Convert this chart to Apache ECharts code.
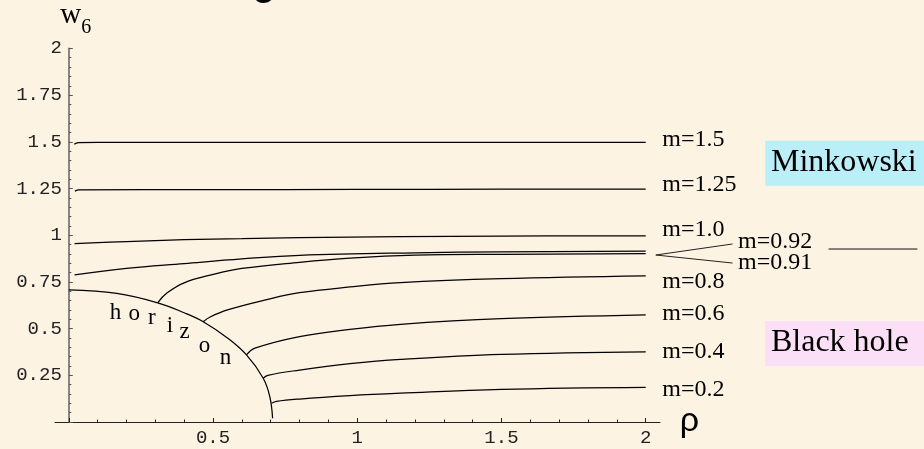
<!DOCTYPE html>
<html><head><meta charset="utf-8">
<script src="https://cdn.jsdelivr.net/npm/echarts@6/dist/echarts.min.js"></script>
<style>html,body{margin:0;padding:0;background:#fdf3e3;}#c{width:924px;height:449px;}</style>
</head><body><div id="c"></div>
<script>
// ---- data ----
const curveNames = ['m=1.5','m=1.25','m=1.0','m=0.92','m=0.91','m=0.8','m=0.6','m=0.4','m=0.2'];
const m15  = [[0.019,1.487],[0.033,1.496],[0.1,1.497],[0.5,1.497],[1,1.497],[1.5,1.497],[2,1.497]];
const m125 = [[0.021,1.236],[0.035,1.242],[0.5,1.244],[1,1.245],[1.5,1.246],[2,1.246]];
const m10  = [[0.02,0.955],[0.2,0.966],[0.4,0.976],[0.6,0.982],[0.8,0.987],[1.15,0.992],[1.5,0.995],[2,0.997]];
const m092 = [[0.02,0.787],[0.2,0.822],[0.4,0.848],[0.6,0.873],[0.8,0.892],[1.2,0.906],[1.5,0.911],[2,0.915]];
const m091 = [[0.308,0.638],[0.34,0.69],[0.4,0.745],[0.5,0.79],[0.6,0.822],[0.8,0.855],[0.975,0.877],[1.2,0.893],[1.5,0.898],[2,0.901]];
const m08  = [[0.466,0.537],[0.49,0.562],[0.55,0.600],[0.686,0.655],[0.8,0.692],[0.975,0.723],[1.15,0.746],[1.5,0.767],[2,0.782]];
const m06  = [[0.616,0.359],[0.645,0.395],[0.8,0.457],[0.975,0.496],[1.15,0.523],[1.5,0.553],[2,0.574]];
const m04  = [[0.674,0.234],[0.69,0.25],[0.8,0.278],[0.975,0.312],[1.15,0.335],[1.5,0.362],[2,0.376]];
const m02  = [[0.703,0.10],[0.72,0.11],[0.8,0.123],[0.975,0.141],[1.15,0.154],[1.5,0.175],[2,0.186]];
const horizon = [[0,0.707],[0.166,0.688],[0.308,0.638],[0.4,0.585],[0.466,0.537],[0.55,0.45],[0.616,0.359],[0.674,0.234],[0.697,0.135],[0.7065,0.02]];

const curveLabelPos = [[2.059,1.511],[2.059,1.270],[2.059,1.029],[2.322,0.962],[2.322,0.851],[2.059,0.748],[2.059,0.578],[2.059,0.373],[2.059,0.170]];
const horizonLetters = ['h','o','r','i','z','o','n'];
const horizonLetterPos = [[0.164,0.579],[0.229,0.577],[0.290,0.5555],[0.352,0.513],[0.403,0.481],[0.472,0.405],[0.545,0.341]];
const pointerLine = [[2.301,0.953],[2.035,0.894],[2.301,0.851]];
const sideDash = [[2.634,0.926],[2.942,0.926]];
const regionNames = ['Minkowski','Black hole'];
const regionTextPos = [[2.436,1.385],[2.436,0.420]];
const regionBoxCenter = [[2.690,1.385],[2.690,0.420]];
const regionColors = ['#aaeefc','#fad9fa'];
const xTickLabels = ['0.5','1','1.5','2'];
const yTickLabels = ['0.25','0.5','0.75','1','1.25','1.5','1.75','2'];

// ---- chart ----
const curves = [m15,m125,m10,m092,m091,m08,m06,m04,m02];
const chart = echarts.init(document.getElementById('c'));
const serif = '"Liberation Serif","Times New Roman",serif';
const mono = '"Liberation Mono","Courier New",monospace';

const series = curves.map((d,i)=>({
  name: curveNames[i], type:'line', data:d, xAxisIndex:0, yAxisIndex:0,
  smooth:0.4, symbol:'none', silent:true,
  lineStyle:{color:'#000', width:1.25}
}));
series.push({type:'line', data:horizon, smooth:0.4, symbol:'none', silent:true,
  lineStyle:{color:'#000', width:1.25}});

// region boxes
series.push({type:'scatter', silent:true, clip:false, symbol:'rect', symbolSize:[159,45], z:1,
  data: regionBoxCenter.map((p,i)=>({value:p, itemStyle:{color:regionColors[i]}}))});

function textScatter(pos, texts, label){
  return {type:'scatter', silent:true, clip:false, symbolSize:1, z:3,
    itemStyle:{color:'rgba(0,0,0,0)'},
    data: pos.map((p,i)=>({value:p, label:{formatter:texts[i]}})),
    label:Object.assign({show:true, position:[0,0], opacity:1, textBorderWidth:0, textShadowBlur:0}, label)};
}
series.push(textScatter(curveLabelPos, curveNames,
  {align:'left', verticalAlign:'middle', fontFamily:serif, fontSize:24, color:'#000'}));
series.push(textScatter(horizonLetterPos, horizonLetters,
  {align:'center', verticalAlign:'middle', fontFamily:serif, fontSize:23, color:'#000'}));
series.push(textScatter(regionTextPos, regionNames,
  {align:'left', verticalAlign:'middle', fontFamily:serif, fontSize:32, color:'#000'}));

const option = {
  backgroundColor:'#fdf3e3',
  animation:false,
  graphic:[{id:'title', type:'text', left:252, top:-40, style:{text:'g', font:'44px "Liberation Sans", Arial, sans-serif', fill:'#000'}}],
  grid:[{left:68.8, right:278.3, top:48.4, bottom:27},
        {left:55, right:264, top:48.4, bottom:27}],
  xAxis:[{
    gridIndex:0, type:'value', min:0, max:2, interval:0.5,
    name:'ρ', nameLocation:'end', nameGap:34,
    nameTextStyle:{fontFamily:'"Liberation Sans",Arial,sans-serif', fontSize:34, color:'#000', padding:[10,0,0,0]},
    axisLine:{show:true, onZero:false, lineStyle:{color:'#222', width:1}},
    axisTick:{show:true, inside:true, length:4, lineStyle:{color:'#222'}},
    minorTick:{show:true, splitNumber:5, length:2.5, lineStyle:{color:'#222'}},
    splitLine:{show:false},
    axisLabel:{fontFamily:mono, fontSize:19, color:'#222', margin:6,
      formatter:v=>{const s=String(v); return xTickLabels.indexOf(s)>=0?s:'';}}
  },{
    gridIndex:1, type:'value', min:0, max:1,
    axisLine:{show:true, onZero:false, lineStyle:{color:'#222', width:1}},
    axisTick:{show:false}, axisLabel:{show:false}, splitLine:{show:false}
  }],
  yAxis:[{
    gridIndex:0, type:'value', min:0, max:2, interval:0.25,
    name:'{w|w}{s|6}', nameLocation:'end', nameGap:11,
    nameTextStyle:{padding:[0,0,0,14], rich:{
      w:{fontFamily:serif, fontSize:29, lineHeight:37, verticalAlign:'top', color:'#000'},
      s:{fontFamily:serif, fontSize:20, lineHeight:37, verticalAlign:'bottom', color:'#000'}}},
    axisLine:{show:true, onZero:false, lineStyle:{color:'#6a6a6a', width:1.6}},
    axisTick:{show:true, inside:true, length:4, lineStyle:{color:'#555'}},
    minorTick:{show:true, splitNumber:5, length:2.5, lineStyle:{color:'#555'}},
    splitLine:{show:false},
    axisLabel:{fontFamily:mono, fontSize:19, color:'#222', margin:7,
      formatter:v=>{const s=String(v); return yTickLabels.indexOf(s)>=0?s:'';}}
  },{
    gridIndex:1, type:'value', min:0, max:1, show:false
  }],
  series: series
};
chart.setOption(option);

// pointer lines beyond the plot area, placed through the chart's own scales
const toPx = p => chart.convertToPixel({gridIndex:0}, p);
chart.setOption({graphic:[
  {id:'pointer', type:'polyline', silent:true, shape:{points:pointerLine.map(toPx)}, style:{stroke:'#222', lineWidth:1, fill:null}},
  {id:'dash', type:'polyline', silent:true, shape:{points:sideDash.map(toPx)}, style:{stroke:'#111', lineWidth:1, fill:null}}
]});
</script></body></html>
